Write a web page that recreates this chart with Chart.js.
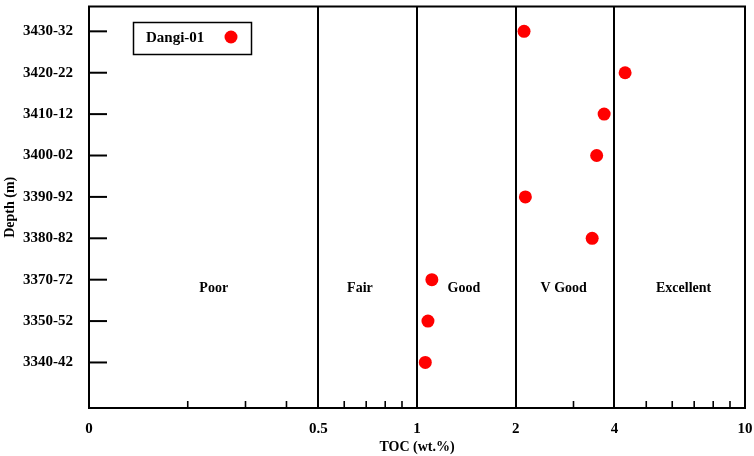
<!DOCTYPE html>
<html>
<head>
<meta charset="utf-8">
<script src="https://cdn.jsdelivr.net/npm/chart.js@4.4.0/dist/chart.umd.min.js"></script>
<style>
  html, body { margin: 0; padding: 0; background: #fff; }
  #wrap { width: 754px; height: 456px; }
</style>
</head>
<body>
<div id="wrap"><canvas id="mycanvas1"></canvas></div>
<script>
// depth intervals, bottom to top
var depths = ['3340-42', '3350-52', '3370-72', '3380-82', '3390-92', '3400-02', '3410-12', '3420-22', '3430-32'];
var toc = [1.06, 1.08, 1.11, 3.42, 2.14, 3.53, 3.72, 4.31, 2.12];

var xTickLabels = { 0.1: '0', 0.5: '0.5', 1: '1', 2: '2', 4: '4', 10: '10' };
var classLines = [0.5, 1, 2, 4];
var minorTicks = [0.2, 0.3, 0.4, 0.6, 0.7, 0.8, 0.9, 3, 5, 6, 7, 8, 9];

var zoneNames = ['Poor', 'Fair', 'Good', 'V Good', 'Excellent'];
var zoneLabelToc = [0.24, 0.67, 1.39, 2.8, 6.5];
var zoneLabelRow = 1.8;

var FONT = '"Liberation Serif", "Times New Roman", serif';

var points = [];
for (var i in depths) {
  points.push({ x: toc[i], y: Number(i) });
}

// short inward ticks, frame, class names and the legend box
var extras = {
  id: 'extras',
  afterDraw: function(chart) {
    var ctx = chart.ctx;
    var a = chart.chartArea;
    var xs = chart.scales.x, ys = chart.scales.y;
    ctx.save();
    ctx.strokeStyle = '#000';

    ctx.lineWidth = 2;
    ctx.strokeRect(a.left, a.top, a.right - a.left, a.bottom - a.top);

    ctx.lineWidth = 1.6;
    minorTicks.forEach(function(v) {
      var px = xs.getPixelForValue(v);
      ctx.beginPath();
      ctx.moveTo(px, a.bottom);
      ctx.lineTo(px, a.bottom - 7);
      ctx.stroke();
    });

    ctx.lineWidth = 2;
    depths.forEach(function(d, k) {
      var py = ys.getPixelForValue(k);
      ctx.beginPath();
      ctx.moveTo(a.left, py);
      ctx.lineTo(a.left + 18, py);
      ctx.stroke();
    });

    ctx.fillStyle = '#000';
    ctx.font = 'bold 14px ' + FONT;
    ctx.textAlign = 'center';
    ctx.textBaseline = 'middle';
    zoneNames.forEach(function(n, k) {
      ctx.fillText(n, xs.getPixelForValue(zoneLabelToc[k]), ys.getPixelForValue(zoneLabelRow));
    });

    // legend
    var ds = chart.data.datasets[0];
    ctx.lineWidth = 1.5;
    ctx.strokeRect(133.5, 22.5, 118, 32);
    ctx.font = 'bold 15px ' + FONT;
    ctx.textAlign = 'left';
    ctx.fillText(ds.label, 146, 38);
    ctx.fillStyle = ds.backgroundColor;
    ctx.beginPath();
    ctx.arc(231, 37, 6.5, 0, Math.PI * 2);
    ctx.fill();
    ctx.restore();
  }
};

var ctx = document.getElementById('mycanvas1');

var chart = new Chart(ctx, {
  type: 'scatter',
  data: {
    datasets: [
      {
        label: 'Dangi-01',
        data: points,
        backgroundColor: '#ff0000',
        borderWidth: 0,
        pointRadius: 6.5,
        pointHoverRadius: 6.5
      }
    ]
  },
  options: {
    responsive: true,
    maintainAspectRatio: false,
    animation: false,
    layout: { padding: { top: 3, right: 9, left: 0, bottom: 0 } },
    plugins: { legend: { display: false }, tooltip: { enabled: false } },
    scales: {
      x: {
        type: 'logarithmic',
        min: 0.1,
        max: 10,
        afterBuildTicks: function(s) {
          s.ticks = [0.1, 0.5, 1, 2, 4, 10].map(function(v) { return { value: v }; });
        },
        afterFit: function(s) {
          s.height = 48;
          s.paddingLeft = 0;
          s.paddingRight = 0;
        },
        ticks: {
          autoSkip: false,
          maxRotation: 0,
          padding: 12,
          color: '#000',
          font: { family: FONT, size: 15, weight: 'bold' },
          callback: function(v) { return xTickLabels[v] !== undefined ? xTickLabels[v] : ''; }
        },
        grid: {
          drawTicks: false,
          lineWidth: 2,
          color: function(c) {
            return c.tick && classLines.indexOf(c.tick.value) >= 0 ? '#000' : 'rgba(0,0,0,0)';
          }
        },
        border: { display: true, color: '#000', width: 2 },
        title: {
          display: true,
          text: 'TOC (wt.%)',
          color: '#000',
          padding: 0,
          font: { family: FONT, size: 14, weight: 'bold' }
        }
      },
      y: {
        type: 'linear',
        min: -1.1,
        max: 8.6,
        afterBuildTicks: function(s) {
          s.ticks = depths.map(function(d, k) { return { value: k }; });
        },
        afterFit: function(s) {
          s.width = 89;
          s.paddingTop = 0;
          s.paddingBottom = 0;
        },
        ticks: {
          autoSkip: false,
          padding: 16,
          color: '#000',
          font: { family: FONT, size: 15, weight: 'bold' },
          callback: function(v) { return depths[v]; }
        },
        grid: { drawTicks: false, drawOnChartArea: false },
        border: { display: true, color: '#000', width: 2 },
        title: {
          display: true,
          text: 'Depth (m)',
          color: '#000',
          padding: { top: 2, bottom: 0 },
          font: { family: FONT, size: 14, weight: 'bold' }
        }
      }
    }
  },
  plugins: [extras]
});
</script>
</body>
</html>
